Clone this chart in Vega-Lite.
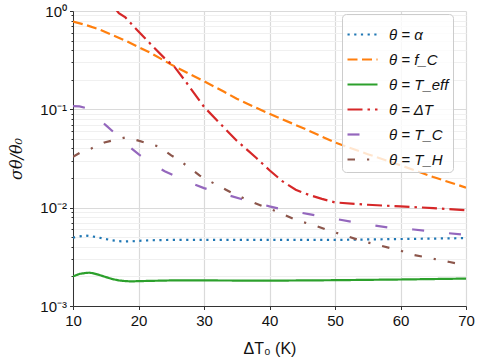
{
  "$schema": "https://vega.github.io/schema/vega-lite/v6.json",
  "autosize": {"type": "none"},
  "width": 393,
  "height": 295,
  "padding": {"left": 73, "top": 11, "right": 14, "bottom": 54},
  "background": "white",
  "view": {"stroke": null},
  "datasets": {
    "d": [
      {"x": 10, "y": 0.00495, "s": "θ = α"}, {"x": 11, "y": 0.0051, "s": "θ = α"}, {"x": 12, "y": 0.0052, "s": "θ = α"}, {"x": 13, "y": 0.0051, "s": "θ = α"}, {"x": 14, "y": 0.00495, "s": "θ = α"}, {"x": 15, "y": 0.0048, "s": "θ = α"}, {"x": 16, "y": 0.00465, "s": "θ = α"}, {"x": 17, "y": 0.00456, "s": "θ = α"}, {"x": 18, "y": 0.00453, "s": "θ = α"}, {"x": 19, "y": 0.00455, "s": "θ = α"}, {"x": 20, "y": 0.0046, "s": "θ = α"}, {"x": 22, "y": 0.00466, "s": "θ = α"}, {"x": 25, "y": 0.0047, "s": "θ = α"}, {"x": 30, "y": 0.0047, "s": "θ = α"}, {"x": 35, "y": 0.0047, "s": "θ = α"}, {"x": 40, "y": 0.0047, "s": "θ = α"}, {"x": 45, "y": 0.0047, "s": "θ = α"}, {"x": 50, "y": 0.0047, "s": "θ = α"}, {"x": 55, "y": 0.00475, "s": "θ = α"}, {"x": 60, "y": 0.0048, "s": "θ = α"}, {"x": 65, "y": 0.00485, "s": "θ = α"}, {"x": 70, "y": 0.0049, "s": "θ = α"},

      {"x": 10, "y": 0.78, "s": "θ = f_C"}, {"x": 12, "y": 0.72, "s": "θ = f_C"}, {"x": 14, "y": 0.65, "s": "θ = f_C"}, {"x": 16, "y": 0.57, "s": "θ = f_C"}, {"x": 18, "y": 0.5, "s": "θ = f_C"}, {"x": 20, "y": 0.43, "s": "θ = f_C"}, {"x": 22, "y": 0.37, "s": "θ = f_C"}, {"x": 25, "y": 0.285, "s": "θ = f_C"}, {"x": 28, "y": 0.225, "s": "θ = f_C"}, {"x": 30, "y": 0.193, "s": "θ = f_C"}, {"x": 33, "y": 0.152, "s": "θ = f_C"}, {"x": 35, "y": 0.128, "s": "θ = f_C"}, {"x": 40, "y": 0.09, "s": "θ = f_C"}, {"x": 45, "y": 0.065, "s": "θ = f_C"}, {"x": 50, "y": 0.046, "s": "θ = f_C"}, {"x": 55, "y": 0.035, "s": "θ = f_C"}, {"x": 60, "y": 0.027, "s": "θ = f_C"}, {"x": 65, "y": 0.0205, "s": "θ = f_C"}, {"x": 70, "y": 0.016, "s": "θ = f_C"},

      {"x": 10, "y": 0.002, "s": "θ = T_eff"}, {"x": 11, "y": 0.00212, "s": "θ = T_eff"}, {"x": 12, "y": 0.00217, "s": "θ = T_eff"}, {"x": 12.5, "y": 0.00218, "s": "θ = T_eff"}, {"x": 13, "y": 0.00216, "s": "θ = T_eff"}, {"x": 14, "y": 0.00207, "s": "θ = T_eff"}, {"x": 15, "y": 0.00197, "s": "θ = T_eff"}, {"x": 16, "y": 0.00188, "s": "θ = T_eff"}, {"x": 17, "y": 0.00182, "s": "θ = T_eff"}, {"x": 18, "y": 0.00179, "s": "θ = T_eff"}, {"x": 19, "y": 0.00178, "s": "θ = T_eff"}, {"x": 20, "y": 0.00179, "s": "θ = T_eff"}, {"x": 25, "y": 0.00182, "s": "θ = T_eff"}, {"x": 30, "y": 0.00182, "s": "θ = T_eff"}, {"x": 40, "y": 0.00181, "s": "θ = T_eff"}, {"x": 50, "y": 0.00183, "s": "θ = T_eff"}, {"x": 60, "y": 0.00186, "s": "θ = T_eff"}, {"x": 70, "y": 0.0019, "s": "θ = T_eff"},

      {"x": 16.5, "y": 1.05, "s": "θ = ΔT"}, {"x": 17, "y": 0.95, "s": "θ = ΔT"}, {"x": 18, "y": 0.86, "s": "θ = ΔT"}, {"x": 20, "y": 0.62, "s": "θ = ΔT"}, {"x": 22, "y": 0.45, "s": "θ = ΔT"}, {"x": 24, "y": 0.33, "s": "θ = ΔT"}, {"x": 25.5, "y": 0.27, "s": "θ = ΔT"}, {"x": 27, "y": 0.2, "s": "θ = ΔT"}, {"x": 30, "y": 0.106, "s": "θ = ΔT"}, {"x": 32, "y": 0.077, "s": "θ = ΔT"}, {"x": 35, "y": 0.048, "s": "θ = ΔT"}, {"x": 38, "y": 0.032, "s": "θ = ΔT"}, {"x": 40, "y": 0.024, "s": "θ = ΔT"}, {"x": 42, "y": 0.0185, "s": "θ = ΔT"}, {"x": 44, "y": 0.0152, "s": "θ = ΔT"}, {"x": 46, "y": 0.0135, "s": "θ = ΔT"}, {"x": 48, "y": 0.0123, "s": "θ = ΔT"}, {"x": 50, "y": 0.0113, "s": "θ = ΔT"}, {"x": 55, "y": 0.0107, "s": "θ = ΔT"}, {"x": 60, "y": 0.0103, "s": "θ = ΔT"}, {"x": 65, "y": 0.0099, "s": "θ = ΔT"}, {"x": 70, "y": 0.0094, "s": "θ = ΔT"},

      {"x": 10, "y": 0.108, "s": "θ = T_C"}, {"x": 11, "y": 0.107, "s": "θ = T_C"}, {"x": 12, "y": 0.103, "s": "θ = T_C"}, {"x": 13, "y": 0.093, "s": "θ = T_C"}, {"x": 14, "y": 0.08, "s": "θ = T_C"}, {"x": 15, "y": 0.069, "s": "θ = T_C"}, {"x": 16.4, "y": 0.057, "s": "θ = T_C"}, {"x": 18, "y": 0.045, "s": "θ = T_C"}, {"x": 20, "y": 0.035, "s": "θ = T_C"}, {"x": 22, "y": 0.028, "s": "θ = T_C"}, {"x": 24, "y": 0.0235, "s": "θ = T_C"}, {"x": 26, "y": 0.0203, "s": "θ = T_C"}, {"x": 28, "y": 0.0178, "s": "θ = T_C"}, {"x": 30, "y": 0.0158, "s": "θ = T_C"}, {"x": 33, "y": 0.0138, "s": "θ = T_C"}, {"x": 36, "y": 0.0121, "s": "θ = T_C"}, {"x": 40, "y": 0.0103, "s": "θ = T_C"}, {"x": 42, "y": 0.0096, "s": "θ = T_C"}, {"x": 46, "y": 0.0086, "s": "θ = T_C"}, {"x": 50, "y": 0.0077, "s": "θ = T_C"}, {"x": 54, "y": 0.0069, "s": "θ = T_C"}, {"x": 58, "y": 0.0063, "s": "θ = T_C"}, {"x": 62, "y": 0.006, "s": "θ = T_C"}, {"x": 66, "y": 0.0056, "s": "θ = T_C"}, {"x": 70, "y": 0.0053, "s": "θ = T_C"},

      {"x": 10, "y": 0.033, "s": "θ = T_H"}, {"x": 11, "y": 0.036, "s": "θ = T_H"}, {"x": 12.8, "y": 0.04, "s": "θ = T_H"}, {"x": 14.8, "y": 0.046, "s": "θ = T_H"}, {"x": 16.4, "y": 0.049, "s": "θ = T_H"}, {"x": 17.9, "y": 0.0515, "s": "θ = T_H"}, {"x": 19, "y": 0.05, "s": "θ = T_H"}, {"x": 20, "y": 0.048, "s": "θ = T_H"}, {"x": 21.2, "y": 0.0455, "s": "θ = T_H"}, {"x": 23, "y": 0.042, "s": "θ = T_H"}, {"x": 24, "y": 0.038, "s": "θ = T_H"}, {"x": 25, "y": 0.034, "s": "θ = T_H"}, {"x": 26, "y": 0.031, "s": "θ = T_H"}, {"x": 27.6, "y": 0.026, "s": "θ = T_H"}, {"x": 29.3, "y": 0.0213, "s": "θ = T_H"}, {"x": 30.1, "y": 0.0197, "s": "θ = T_H"}, {"x": 32.1, "y": 0.0169, "s": "θ = T_H"}, {"x": 34.2, "y": 0.0142, "s": "θ = T_H"}, {"x": 37, "y": 0.0117, "s": "θ = T_H"}, {"x": 39, "y": 0.0103, "s": "θ = T_H"}, {"x": 41, "y": 0.0092, "s": "θ = T_H"}, {"x": 42, "y": 0.0086, "s": "θ = T_H"}, {"x": 44, "y": 0.0075, "s": "θ = T_H"}, {"x": 46.9, "y": 0.0066, "s": "θ = T_H"}, {"x": 48.9, "y": 0.0059, "s": "θ = T_H"}, {"x": 52, "y": 0.0051, "s": "θ = T_H"}, {"x": 54, "y": 0.0046, "s": "θ = T_H"}, {"x": 57, "y": 0.0041, "s": "θ = T_H"}, {"x": 59, "y": 0.0038, "s": "θ = T_H"}, {"x": 60.3, "y": 0.0036, "s": "θ = T_H"}, {"x": 62.1, "y": 0.0033, "s": "θ = T_H"}, {"x": 64.7, "y": 0.00305, "s": "θ = T_H"}, {"x": 67.5, "y": 0.0028, "s": "θ = T_H"}, {"x": 70, "y": 0.0026, "s": "θ = T_H"}
    ]
  },
  "data": {"name": "d"},
  "mark": {"type": "line", "strokeWidth": 2.2, "clip": true, "strokeCap": "butt"},
  "encoding": {
    "x": {
      "field": "x", "type": "quantitative",
      "scale": {"domain": [10, 70], "nice": false, "zero": false},
      "axis": {
        "title": "ΔT₀ (K)",
        "values": [10, 20, 30, 40, 50, 60, 70],
        "labelFlush": false,
        "titleX": 196.5, "titleY": 47, "titleBaseline": "alphabetic",
        "titleFontSize": 16, "titleFontWeight": "normal", "titleFont": "Liberation Sans", "titleColor": "#111",
        "labelFont": "Liberation Sans", "labelFontSize": 15, "labelColor": "#111", "labelPadding": 4,
        "grid": true, "gridColor": "#dadada", "gridWidth": 1.2,
        "tickSize": 3.5, "tickColor": "#333", "tickWidth": 1,
        "domainColor": "#333", "domainWidth": 1
      }
    },
    "y": {
      "field": "y", "type": "quantitative",
      "scale": {"type": "log", "domain": [0.001, 1], "nice": false},
      "axis": {
        "title": "σθ/θ₀",
        "values": [0.001, 0.002, 0.003, 0.004, 0.005, 0.006, 0.007, 0.008, 0.009, 0.01, 0.02, 0.03, 0.04, 0.05, 0.06, 0.07, 0.08, 0.09, 0.1, 0.2, 0.3, 0.4, 0.5, 0.6, 0.7, 0.8, 0.9, 1],
        "labelExpr": "datum.value == 1 ? '10⁰' : datum.value == 0.1 ? '10⁻¹' : datum.value == 0.01 ? '10⁻²' : datum.value == 0.001 ? '10⁻³' : ''",
        "labelOverlap": false, "labelBound": false, "labelFlush": false,
        "labelFont": "Liberation Sans", "labelFontSize": 15, "labelColor": "#111", "labelPadding": 3,
        "titleX": -57, "titleY": 147.5, "titleAngle": -90, "titleBaseline": "middle", "titleAlign": "center",
        "titleFontSize": 16, "titleFontWeight": "normal", "titleFont": "DejaVu Serif", "titleFontStyle": "italic", "titleColor": "#111",
        "grid": true,
        "gridColor": {"condition": {"test": "datum.value == 1 || datum.value == 0.1 || datum.value == 0.01 || datum.value == 0.001", "value": "#dadada"}, "value": "#f0f0f0"},
        "gridWidth": {"condition": {"test": "datum.value == 1 || datum.value == 0.1 || datum.value == 0.01 || datum.value == 0.001", "value": 1.2}, "value": 1},
        "tickSize": {"condition": {"test": "datum.value == 1 || datum.value == 0.1 || datum.value == 0.01 || datum.value == 0.001", "value": 3.5}, "value": 2},
        "tickColor": "#333", "tickWidth": 1,
        "domainColor": "#333", "domainWidth": 1
      }
    },
    "color": {
      "field": "s", "type": "nominal",
      "scale": {
        "domain": ["θ = α", "θ = f_C", "θ = T_eff", "θ = ΔT", "θ = T_C", "θ = T_H"],
        "range": ["#1f77b4", "#ff7f0e", "#2ca02c", "#d62728", "#9467bd", "#8c564b"]
      },
      "legend": {
        "title": null, "orient": "none", "legendX": 269, "legendY": 3,
        "symbolType": "stroke", "symbolSize": 900, "symbolStrokeWidth": 2.2,
        "labelFont": "Liberation Sans", "labelFontStyle": "italic", "labelFontSize": 15, "labelColor": "#111", "labelOffset": 10,
        "rowPadding": -2.5, "padding": 4,
        "fillColor": "rgba(255,255,255,0.8)", "strokeColor": "#cccccc", "cornerRadius": 4
      }
    },
    "strokeDash": {
      "field": "s", "type": "nominal",
      "scale": {
        "domain": ["θ = α", "θ = f_C", "θ = T_eff", "θ = ΔT", "θ = T_C", "θ = T_H"],
        "range": [[2.2, 4.5], [10, 4.5], [1, 0], [15, 5, 2.5, 5], [12, 25], [7.5, 12, 2.2, 12]]
      },
      "legend": null
    }
  }
}
